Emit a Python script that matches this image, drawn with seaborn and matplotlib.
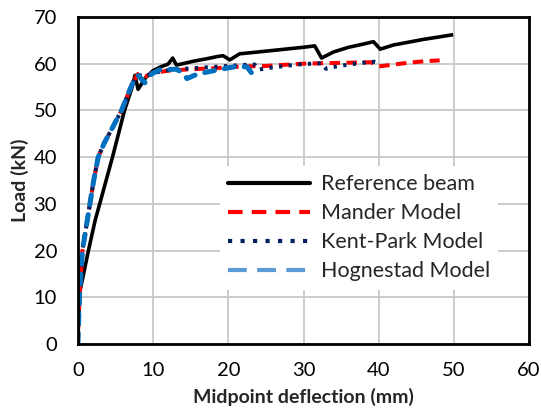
import numpy as np
import pandas as pd
import matplotlib
matplotlib.use("Agg")
import matplotlib.pyplot as plt
from matplotlib.lines import Line2D
import seaborn as sns

# Load-deflection data (mm, kN)
ref_x = [0, 0.1, 0.3, 1.4, 2.3, 2.9, 4.6, 6.2, 7.1, 7.6, 8.0, 9.0, 10.0, 11.0, 12.0,
         12.6, 13.1, 14.0, 15.3, 17.0, 18.5, 19.3, 20.2, 21.5, 24.0, 27.0, 30.0, 31.5,
         32.4, 34.0, 36.0, 38.0, 39.3, 40.2, 42.0, 44.0, 46.0, 48.0, 49.9]
ref_y = [0, 6, 11.5, 20, 26.5, 30, 40, 50, 54.4, 57.5, 54.5, 57.0, 58.5, 59.3, 59.9,
         61.2, 59.7, 60.0, 60.5, 61.0, 61.5, 61.7, 60.8, 62.1, 62.5, 63.0, 63.5, 63.8,
         61.2, 62.5, 63.5, 64.2, 64.7, 63.1, 64.0, 64.6, 65.2, 65.7, 66.2]

mander_x = [0, 0.2, 0.6, 1.6, 2.1, 2.7, 3.5, 4.5, 5.8, 6.9, 7.4, 8.0, 9.0, 10.0, 12.0,
            15.0, 18.0, 20.0, 22.0, 25.0, 28.0, 30.0, 33.0, 36.0, 39.0, 40.0, 42.0,
            44.0, 46.0, 48.1]
mander_y = [0, 10, 20, 30, 35, 40, 43, 46, 50, 54.4, 56.2, 57.8, 57.3, 58.0, 58.5,
            58.8, 59.0, 59.2, 59.4, 59.5, 59.8, 60.0, 60.1, 60.2, 60.3, 59.4, 59.8,
            60.2, 60.5, 60.7]

kent_x = [0, 0.2, 0.6, 1.6, 2.1, 2.7, 3.5, 4.5, 5.8, 6.9, 7.4, 8.0, 9.0, 10.0, 12.0,
          15.0, 18.0, 20.0, 22.0, 23.5, 24.0, 25.0, 28.0, 30.0, 32.5, 33.0, 34.0,
          36.0, 38.0, 39.5, 40.0]
kent_y = [0, 10, 20, 30, 35, 40, 43, 46, 50, 54.4, 56.2, 57.6, 57.2, 58.0, 58.6,
          59.0, 59.3, 59.5, 59.7, 59.8, 58.7, 59.0, 59.6, 59.9, 60.1, 58.9, 59.3,
          59.8, 60.2, 60.4, 60.2]

hog_x = [0, 0.2, 0.6, 1.6, 2.1, 2.7, 3.5, 4.5, 5.8, 6.9, 7.4, 8.0, 8.9, 9.8, 10.9,
         13.1, 14.0, 14.5, 15.5, 16.6, 19.0, 21.1, 22.5, 23.1, 23.8]
hog_y = [0, 10, 20, 30, 35, 40, 43, 46, 50, 54.4, 56.2, 57.5, 55.9, 57.8, 58.7,
         58.8, 58.0, 56.8, 57.5, 58.0, 58.8, 59.4, 59.3, 58.0, 58.0]

labels = ["Reference beam", "Mander Model", "Kent-Park Model", "Hognestad Model"]

frames = []
for name, xs, ys in zip(labels,
                        [ref_x, mander_x, kent_x, hog_x],
                        [ref_y, mander_y, kent_y, hog_y]):
    frames.append(pd.DataFrame({"x": xs, "y": ys, "series": name}))
df = pd.concat(frames, ignore_index=True)

sns.set_style("white")
plt.rcParams["font.family"] = ["Lato", "DejaVu Sans"]

fig = plt.figure(figsize=(5.41, 4.12), dpi=100)
ax = fig.add_axes([0.144, 0.165, 0.834, 0.794])

styles = {
    "Reference beam": dict(color="black", lw=2.6, ls="-", solid_capstyle="butt"),
    "Mander Model": dict(color="#FF0000", lw=2.9, ls=(0, (2.6, 1.6)), dash_capstyle="butt"),
    "Kent-Park Model": dict(color="#002060", lw=2.9, ls=(0, (0.8, 1.6)), dash_capstyle="butt"),
    "Hognestad Model": dict(color="#0070C0", lw=3.6, ls=(0, (2.0, 2.0)), dash_capstyle="round"),
}

for name in labels:
    sub = df[df["series"] == name]
    sns.lineplot(data=sub, x="x", y="y", ax=ax, sort=False, estimator=None,
                 legend=False, **styles[name])

ax.set_xlim(0, 60)
ax.set_ylim(0, 70)
ax.set_xticks(np.arange(0, 61, 10))
ax.set_yticks(np.arange(0, 71, 10))
ax.grid(True, color="#C8C8C8", lw=1.3)
ax.set_axisbelow(True)
for s in ax.spines.values():
    s.set_color("black")
    s.set_linewidth(2.0)
ax.tick_params(axis="both", length=0, labelsize=14.5, colors="black")
ax.tick_params(axis="x", pad=13)
ax.tick_params(axis="y", pad=15)
ax.set_xlabel("Midpoint deflection (mm)", fontsize=14, fontweight="bold", labelpad=6)
ax.set_ylabel("Load (kN)", fontsize=14, fontweight="bold", labelpad=3)

handles = [
    Line2D([], [], color="black", lw=3.0),
    Line2D([], [], color="#FF0000", lw=3.0, ls=(0, (3.5, 2.2))),
    Line2D([], [], color="#002060", lw=3.0, ls=(0, (1.0, 2.0)), dash_capstyle="butt"),
    Line2D([], [], color="#5B9BD5", lw=3.0, ls=(0, (4.5, 2.5))),
]
leg = ax.legend(handles, labels, loc="upper left", bbox_to_anchor=(0.29, 0.578),
                fontsize=15.5, frameon=True, facecolor="white", edgecolor="none",
                framealpha=1, fancybox=False, handlelength=3.8, handletextpad=0.5,
                labelspacing=0.42, borderpad=0.4)

fig.savefig("out.png", dpi=100)
